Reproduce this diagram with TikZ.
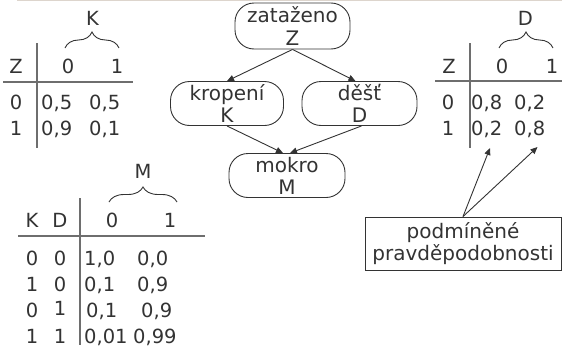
\documentclass[tikz,border=0pt]{standalone}
\usepackage{fontspec}
\setmainfont{DejaVu Sans}
\usetikzlibrary{arrows.meta,decorations.pathreplacing,calc}

\definecolor{ink}{HTML}{333333}
\definecolor{rule}{HTML}{6E6E6E}
\definecolor{topline}{HTML}{DDD5CD}

\tikzset{
  var/.style={draw=ink, line width=0.9pt, rounded corners=19pt, minimum width=113pt,
    minimum height=44pt, inner sep=0pt, align=center, text=ink,
    font=\fontsize{20}{22}\selectfont},
  note/.style={draw=ink, line width=0.9pt, minimum width=196pt, minimum height=53pt,
    inner sep=0pt, align=center, text=ink, font=\fontsize{20}{22}\selectfont},
  cell/.style={inner sep=0pt, text=ink, font=\fontsize{19.5}{20}\selectfont, anchor=base},
  val/.style={cell, anchor=base west},
  tab/.style={draw=rule, line width=1.4pt},
  brc/.style={draw=ink, line width=0.9pt, decorate,
    decoration={brace, amplitude=#1}},
  link/.style={draw=ink, line width=0.9pt, -{Triangle[length=7pt,width=6pt]}},
}

\begin{document}
\begin{tikzpicture}[x=1pt, y=-1pt]
\useasboundingbox (0,0) rectangle (562,351);
\draw[topline, line width=1.5pt] (17,0.6) -- (562,0.6);

% network
\node[var, minimum width=115pt, minimum height=46pt] (z) at (292.5,26) {zataženo\\Z};
\node[var] (k) at (227,103.5) {kropení\\K};
\node[var, minimum width=115pt] (d) at (359.5,103.5) {děšť\\D};
\node[var, minimum width=116pt] (m) at (287,175.5) {mokro\\M};

\draw[link] (z.south) -- (k.north);
\draw[link] (z.south) -- ($(d.north)+(-4,0)$);
\draw[link] (k.south) -- ($(m.north)+(-4,0)$);
\draw[link] ($(d.south)+(2,0)$) -- ($(m.north)+(3,0)$);

% table P(K|Z)
\draw[tab] (3,82) -- (133,82);
\draw[tab] (37,43) -- (37,148);
\draw[brc=16pt] (65,48) -- (119,48);
\node[cell] (kK) at (92.5,25) {K};
\node[cell] (kZ) at (16,73) {Z};
\node[cell] (kc0) at (68,73) {0};
\node[cell] (kc1) at (117,73) {1};
\node[cell] (kr0) at (16,109) {0};
\node[cell] (kr1) at (16,135) {1};
\node[val] (k00) at (41,109) {0,5};
\node[val] (k01) at (89,109) {0,5};
\node[val] (k10) at (41,135) {0,9};
\node[val] (k11) at (89,135) {0,1};

% table P(D|Z)
\draw[tab] (435,81) -- (562,81);
\draw[tab] (470,43) -- (470,148);
\draw[brc=16pt] (499,48) -- (553,48);
\node[cell] (dD) at (525.5,25) {D};
\node[cell] (dZ) at (449,73) {Z};
\node[cell] (dc0) at (502,73) {0};
\node[cell] (dc1) at (552,73) {1};
\node[cell] (dr0) at (448,109) {0};
\node[cell] (dr1) at (448,135) {1};
\node[val] (d00) at (471,109) {0,8};
\node[val] (d01) at (514,109) {0,2};
\node[val] (d10) at (471,135) {0,2};
\node[val] (d11) at (514,135) {0,8};

% table P(M|K,D)
\draw[tab] (18,236) -- (205,236);
\draw[tab] (80,198) -- (80,345);
\draw[brc=15pt] (109,202) -- (177,202);
\node[cell] (mM) at (143,178) {M};
\node[cell] (mK) at (32,227) {K};
\node[cell] (mD) at (60,227) {D};
\node[cell] (mc0) at (112,227) {0};
\node[cell] (mc1) at (170,227) {1};
\node[cell] (a1) at (32,265) {0};
\node[cell] (b1) at (60,265) {0};
\node[cell] (a2) at (32,291) {1};
\node[cell] (b2) at (60,291) {0};
\node[cell] (a3) at (32,317) {0};
\node[cell] (b3) at (60,315) {1};
\node[cell] (a4) at (32,343) {1};
\node[cell] (b4) at (60,343) {1};
\node[val] (m10) at (84,265) {1,0};
\node[val] (m11) at (137,265) {0,0};
\node[val] (m20) at (84,291) {0,1};
\node[val] (m21) at (137,291) {0,9};
\node[val] (m30) at (86,317) {0,1};
\node[val] (m31) at (141,317) {0,9};
\node[val] (m40) at (84,343) {0,01};
\node[val] (m41) at (133,343) {0,99};

% annotation
\node[note] (p) at (463,243.5) {podmíněné\\pravděpodobnosti};
\coordinate (t1) at (490,148);
\coordinate (t2) at (537.5,147);
\draw[link] (p.north) -- (t1);
\draw[link] (p.north) -- (t2);
\end{tikzpicture}
\end{document}
